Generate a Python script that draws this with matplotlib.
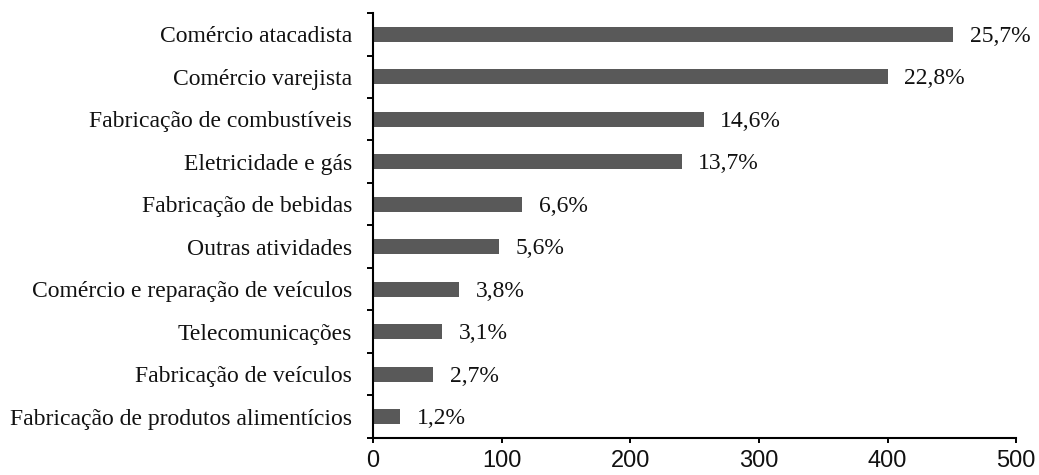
import matplotlib
matplotlib.use("Agg")
import matplotlib.pyplot as plt
import numpy as np

# valores (eixo 0-500) e participacao percentual
setores = [
    "Comércio atacadista",
    "Comércio varejista",
    "Fabricação de combustíveis",
    "Eletricidade e gás",
    "Fabricação de bebidas",
    "Outras atividades",
    "Comércio e reparação de veículos",
    "Telecomunicações",
    "Fabricação de veículos",
    "Fabricação de produtos alimentícios",
]
valores = [451, 400, 257, 240, 116, 98, 67, 54, 47, 21]
rotulos = ["25,7%", "22,8%", "14,6%", "13,7%", "6,6%",
           "5,6%", "3,8%", "3,1%", "2,7%", "1,2%"]
xticks = [0, 100, 200, 300, 400, 500]

serif = "Liberation Serif"
sans = "Liberation Sans"
cor = "#595959"

fig = plt.figure(figsize=(10.39, 4.75), dpi=100)
ax = fig.add_axes([0.359, 0.078, 0.619, 0.8946])

n = len(setores)
ypos = np.arange(n)[::-1]
ax.barh(ypos, valores, height=0.36, color=cor, edgecolor="none")

for y, v, r in zip(ypos, valores, rotulos):
    ax.annotate(r, xy=(v, y), xytext=(12, -1.5), textcoords="offset points",
                ha="left", va="center", fontsize=17, family=serif,
                color="#111111")

ax.set_xlim(0, 500)
ax.set_ylim(-0.5, n - 0.5)

ax.set_xticks(xticks)
ax.set_xticklabels([str(t) for t in xticks], family=sans, fontsize=17,
                   color="#111111")
ax.tick_params(axis="x", direction="out", length=3.5, width=1.4, pad=5)

ax.set_yticks(ypos)
ax.set_yticklabels(setores, family=serif, fontsize=17, color="#111111")
ax.tick_params(axis="y", which="major", length=0, pad=15)
ax.set_yticks(np.arange(-0.5, n, 1.0), minor=True)
ax.tick_params(axis="y", which="minor", direction="out", length=4.5, width=1.4)

for s in ["top", "right"]:
    ax.spines[s].set_visible(False)
for s in ["left", "bottom"]:
    ax.spines[s].set_linewidth(1.5)
    ax.spines[s].set_color("black")

fig.savefig("out.png", dpi=100)
